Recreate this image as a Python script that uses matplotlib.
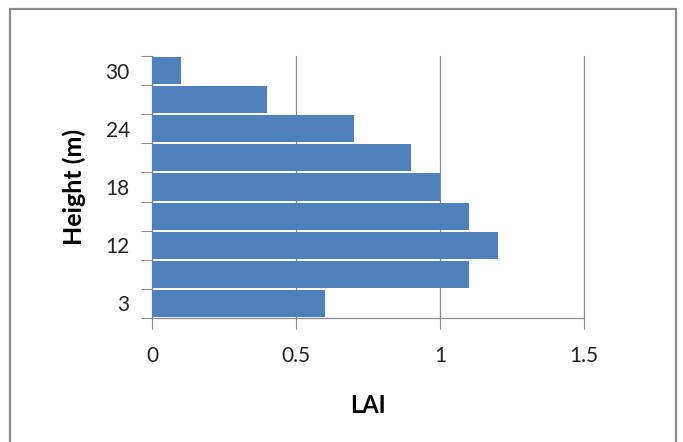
import matplotlib.pyplot as plt
from matplotlib.patches import Rectangle

# Alturas (m) e valores de LAI, de baixo para cima
alturas = ["3", "6", "12", "15", "18", "21", "24", "27", "30"]
lai = [0.6, 1.1, 1.2, 1.1, 1.0, 0.9, 0.7, 0.4, 0.1]
rotulos_visiveis = ["3", "12", "18", "24", "30"]
x_ticks = [0, 0.5, 1, 1.5]
x_rotulos = ["0", "0.5", "1", "1.5"]

plt.rcParams['font.family'] = ['Lato', 'DejaVu Sans']

fig = plt.figure(figsize=(6.83, 4.42), dpi=100)
W, H = 683, 442

# moldura cinza em volta do gráfico
fig.patches.append(Rectangle((10 / W, -0.05), 666 / W, 1.05 - 9 / H,
                             transform=fig.transFigure, fill=False,
                             edgecolor='#8c8c8c', linewidth=1.6))

ax = fig.add_axes([152 / W, 1 - 318 / H, 432 / W, 262 / H])

pos = list(range(len(alturas)))
ax.barh(pos, lai, height=0.93, color='#4f81bd', zorder=3)

ax.set_xlim(0, 1.5)
ax.set_ylim(-0.5, len(alturas) - 0.5)

ax.set_xticks(x_ticks)
ax.set_xticklabels(x_rotulos, fontsize=15, color='#222222')
ax.tick_params(axis='x', length=8, color='#8c8c8c', pad=12)

# marcas nos limites das categorias, rótulos em categorias alternadas
ax.set_yticks([p - 0.5 for p in range(len(alturas) + 1)])
ax.set_yticklabels([])
ax.set_yticks(pos, minor=True)
ax.set_yticklabels([a if a in rotulos_visiveis else "" for a in alturas],
                   minor=True, fontsize=15, color='#222222')
ax.tick_params(axis='y', which='major', length=8, color='#8c8c8c')
ax.tick_params(axis='y', which='minor', length=0, pad=16)

for g in x_ticks[1:]:
    ax.axvline(g, color='#8c8c8c', linewidth=0.9, zorder=0, clip_on=False)

for lado in ['top', 'right']:
    ax.spines[lado].set_visible(False)
for lado in ['left', 'bottom']:
    ax.spines[lado].set_color('#8c8c8c')
    ax.spines[lado].set_linewidth(0.9)

ax.set_xlabel("LAI", fontsize=17, fontweight='bold', labelpad=20)
ax.set_ylabel("Height (m)", fontsize=18, fontweight='bold', labelpad=14)

fig.savefig("out.png", dpi=100)
